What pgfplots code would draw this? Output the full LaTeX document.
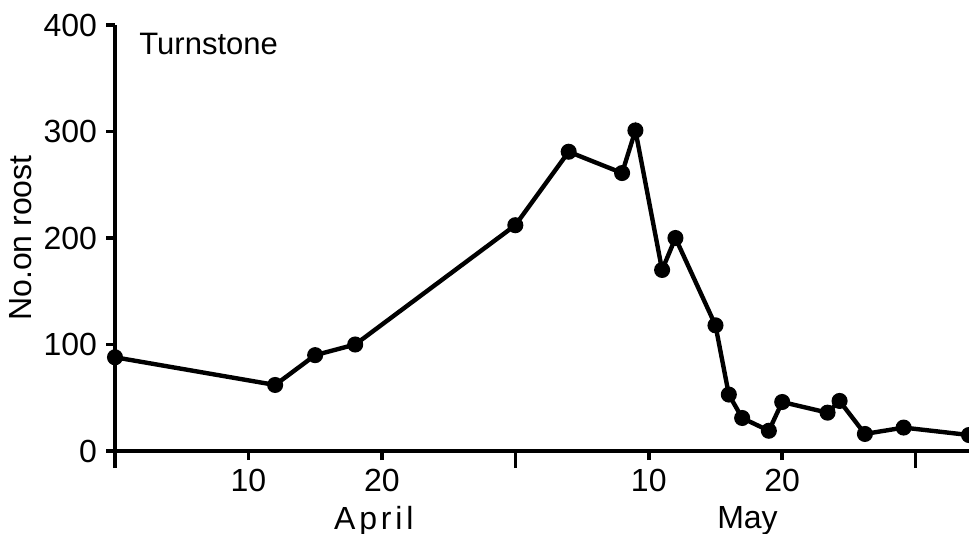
\documentclass[border=0pt]{standalone}
\usepackage{fontspec}
\setmainfont{Liberation Sans}
\usepackage{pgfplots}
\pgfplotsset{compat=1.18}

\begin{document}
\begin{tikzpicture}
\begin{axis}[
    name=ax,
    scale only axis,
    width=427pt, height=213pt,
    xmin=0, xmax=64, ymin=0, ymax=400,
    axis lines=left,
    axis line style={-, line width=2.4pt},
    tick align=outside,
    major tick length=4.5pt,
    tick style={line width=1.8pt, black},
    xtick={10,20,40,50},
    xticklabels={10,20,10,20},
    extra x ticks={0,30,60},
    extra x tick labels={},
    extra x tick style={major tick length=8.5pt},
    ytick={0,100,200,300,400},
    /pgf/number format/assume math mode=true,
    tick label style={font=\fontsize{16}{18}\selectfont},
    xticklabel style={yshift=-1pt},
    yticklabel style={xshift=-1pt},
    ylabel={No.on roost},
    ylabel style={at={(axis description cs:-0.110,0.5)}, anchor=center,
        font=\fontsize{16}{18}\selectfont},
    clip=false,
]
\addplot[black, line width=2.2pt, mark=*, mark size=2.9pt] coordinates {
    (0,88) (12,62) (15,90) (18,100) (30,212) (34,281) (38,261) (39,301)
    (41,170) (42,200) (45,118) (46,53) (47,31) (49,19) (50,46)
    (53.4,36) (54.3,47) (56.2,16) (59.1,22) (64,15)
};
\node[anchor=west, font=\fontsize{15.5}{17}\selectfont] at (axis cs:1.3,382) {Turnstone};
\node[font=\fontsize{16}{18}\selectfont\addfontfeature{LetterSpace=12}] at (axis cs:19.4,0) [yshift=-35pt] {April};
\node[font=\fontsize{16}{18}\selectfont] at (axis cs:47.4,0) [yshift=-35pt] {May};
\end{axis}
\pgfresetboundingbox
\path[use as bounding box] ([xshift=-57.5pt, yshift=-41pt]ax.south west) rectangle ([yshift=12.5pt]ax.north east);
\end{tikzpicture}
\end{document}
